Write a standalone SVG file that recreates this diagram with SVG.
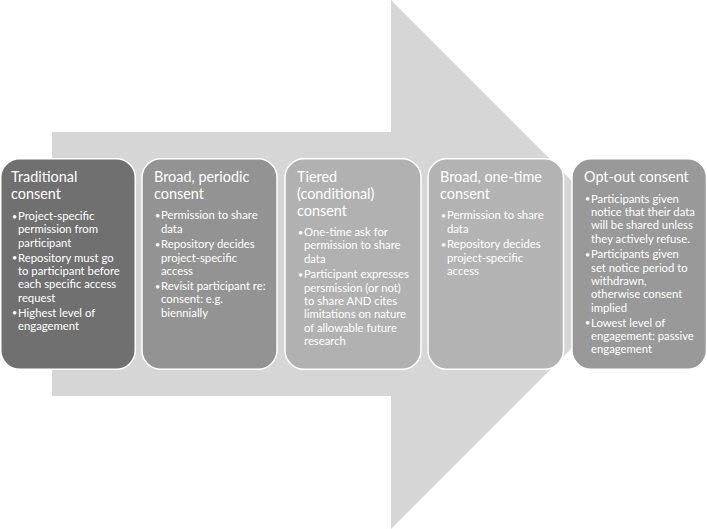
<svg xmlns="http://www.w3.org/2000/svg" width="707" height="529" viewBox="0 0 707 529">
<style>
.box{stroke:#ffffff;stroke-width:1.5}
.t{font-family:Lato,"Open Sans","Liberation Sans",sans-serif;fill:#ffffff}
.h{font-size:14.4px}
.b{font-size:11.3px}
.d{font-size:9px}
</style>
<rect width="707" height="529" fill="#ffffff"/>
<g id="arrow">
<path d="M52,132 L391,132 L391,0 L655.5,264.5 L391,529 L391,396 L52,396 Z" fill="#d6d6d6"/>
</g>
<g id="node-traditional">
<rect class="box" x="0.75" y="158.75" width="134.5" height="210.5" rx="19" fill="#707070"/>
<text class="t h"><tspan x="11" y="182">Traditional</tspan><tspan x="11" y="199">consent</tspan></text>
<text class="t d"><tspan x="12" y="219.5">•</tspan><tspan x="12" y="261.2">•</tspan><tspan x="12" y="316.2">•</tspan></text>
<text class="t b"><tspan x="18" y="220">Project-specific</tspan><tspan x="18" y="233.3">permission from</tspan><tspan x="18" y="246.6">participant</tspan><tspan x="18" y="261.7">Repository must go</tspan><tspan x="18" y="275">to participant before</tspan><tspan x="18" y="288.3">each specific access</tspan><tspan x="18" y="301.6">request</tspan><tspan x="18" y="316.7">Highest level of</tspan><tspan x="18" y="330">engagement</tspan></text>
</g>
<g id="node-broad-periodic">
<rect class="box" x="142" y="158.75" width="135" height="210.5" rx="19" fill="#939393"/>
<text class="t h"><tspan x="154" y="182">Broad, periodic</tspan><tspan x="154" y="199">consent</tspan></text>
<text class="t d"><tspan x="155" y="218.8">•</tspan><tspan x="155" y="247.8">•</tspan><tspan x="155" y="289.5">•</tspan></text>
<text class="t b"><tspan x="161" y="219.3">Permission to share</tspan><tspan x="161" y="232.6">data</tspan><tspan x="161" y="248.3">Repository decides</tspan><tspan x="161" y="261.6">project-specific</tspan><tspan x="161" y="274.9">access</tspan><tspan x="161" y="290">Revisit participant re:</tspan><tspan x="161" y="303.3">consent: e.g.</tspan><tspan x="161" y="316.6">biennially</tspan></text>
</g>
<g id="node-tiered">
<rect class="box" x="285" y="158.75" width="136" height="210.5" rx="19" fill="#b1b1b1"/>
<text class="t h"><tspan x="297" y="182">Tiered</tspan><tspan x="297" y="199">(conditional)</tspan><tspan x="297" y="215.7">consent</tspan></text>
<text class="t d"><tspan x="298" y="235.5">•</tspan><tspan x="298" y="277.8">•</tspan></text>
<text class="t b"><tspan x="304" y="236">One-time ask for</tspan><tspan x="304" y="249.3">permission to share</tspan><tspan x="304" y="262.6">data</tspan><tspan x="304" y="278.3">Participant expresses</tspan><tspan x="304" y="291.6">persmission (or not)</tspan><tspan x="304" y="304.9">to share AND cites</tspan><tspan x="304" y="318.2">limitations on nature</tspan><tspan x="304" y="331.5">of allowable future</tspan><tspan x="304" y="344.8">research</tspan></text>
</g>
<g id="node-broad-one-time">
<rect class="box" x="428" y="158.75" width="135.5" height="210.5" rx="19" fill="#b3b3b3"/>
<text class="t h"><tspan x="440" y="182">Broad, one-time</tspan><tspan x="440" y="199">consent</tspan></text>
<text class="t d"><tspan x="441" y="218.8">•</tspan><tspan x="441" y="247.8">•</tspan></text>
<text class="t b"><tspan x="447" y="219.3">Permission to share</tspan><tspan x="447" y="232.6">data</tspan><tspan x="447" y="248.3">Repository decides</tspan><tspan x="447" y="261.6">project-specific</tspan><tspan x="447" y="274.9">access</tspan></text>
</g>
<g id="node-opt-out">
<rect class="box" x="572" y="158.75" width="134.5" height="210.5" rx="19" fill="#999999"/>
<text class="t h"><tspan x="584" y="182">Opt-out consent</tspan></text>
<text class="t d"><tspan x="585" y="202.2">•</tspan><tspan x="585" y="257.8">•</tspan><tspan x="585" y="326.2">•</tspan></text>
<text class="t b"><tspan x="591" y="202.7">Participants given</tspan><tspan x="591" y="216">notice that their data</tspan><tspan x="591" y="229.3">will be shared unless</tspan><tspan x="591" y="242.6">they actively refuse.</tspan><tspan x="591" y="258.3">Participants given</tspan><tspan x="591" y="271.6">set notice period to</tspan><tspan x="591" y="284.9">withdrawn,</tspan><tspan x="591" y="298.2">otherwise consent</tspan><tspan x="591" y="311.5">implied</tspan><tspan x="591" y="326.7">Lowest level of</tspan><tspan x="591" y="340">engagement: passive</tspan><tspan x="591" y="353.3">engagement</tspan></text>
</g>
<g id="connectors"></g>
</svg>
